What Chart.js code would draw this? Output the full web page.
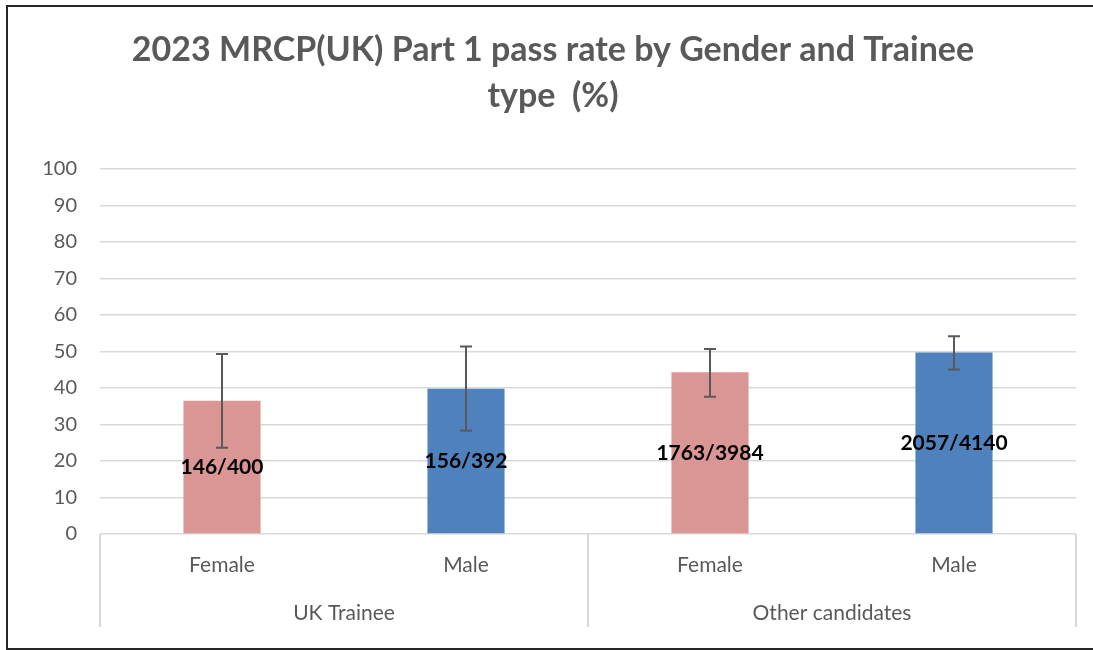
<!DOCTYPE html>
<html>
<head>
<meta charset="utf-8">
<script src="https://cdn.jsdelivr.net/npm/chart.js@4"></script>
<style>
  body { margin: 0; background: #fff; }
  #wrap { position: relative; width: 1093px; height: 650px; overflow: hidden; }
  #frame { position: absolute; left: 6px; top: 5px; width: 1200px; height: 641px; border: 2px solid #262626; pointer-events: none; }
</style>
</head>
<body>
<div id="wrap">
  <canvas id="passChart" width="1093" height="650"></canvas>
  <div id="frame"></div>
</div>
<script>
// dati
var genders = ['Female', 'Male', 'Female', 'Male'];
var groups = ['UK Trainee', 'Other candidates'];
var passRate = [36.5, 39.8, 44.3, 49.7];
var errLow = [23.6, 28.3, 37.6, 45.1];
var errHigh = [49.3, 51.4, 50.7, 54.2];
var barLabels = ['146/400', '156/392', '1763/3984', '2057/4140'];
var barColors = ['#D99694', '#4F81BD', '#D99694', '#4F81BD'];
var yTicks = [0, 10, 20, 30, 40, 50, 60, 70, 80, 90, 100];

var grey = '#595959';
var gridGrey = '#D9D9D9';

// barre di errore, etichette e separatori dei gruppi
var extras = {
    id: 'extras',
    afterDatasetsDraw: function(chart) {
        var ctx = chart.ctx;
        var y = chart.scales.y;
        var meta = chart.getDatasetMeta(0);
        ctx.save();
        ctx.strokeStyle = grey;
        ctx.lineWidth = 2;
        meta.data.forEach(function(bar, i) {
            var top = y.getPixelForValue(errHigh[i]);
            var bot = y.getPixelForValue(errLow[i]);
            ctx.beginPath();
            ctx.moveTo(bar.x, top); ctx.lineTo(bar.x, bot);
            ctx.moveTo(bar.x - 6, top); ctx.lineTo(bar.x + 6, top);
            ctx.moveTo(bar.x - 6, bot); ctx.lineTo(bar.x + 6, bot);
            ctx.stroke();
        });
        ctx.font = 'bold 21px Lato';
        ctx.fillStyle = '#000';
        ctx.textAlign = 'center';
        ctx.textBaseline = 'middle';
        meta.data.forEach(function(bar, i) {
            ctx.fillText(barLabels[i], bar.x, (bar.y + bar.base) / 2);
        });
        ctx.restore();
    },
    afterDraw: function(chart) {
        var ctx = chart.ctx;
        var x = chart.scales.x;
        var area = chart.chartArea;
        var mid = (x.getPixelForTick(1) + x.getPixelForTick(2)) / 2;
        ctx.save();
        ctx.strokeStyle = gridGrey;
        ctx.lineWidth = 2;
        [x.left, mid, x.right].forEach(function(px) {
            ctx.beginPath();
            ctx.moveTo(px, area.bottom);
            ctx.lineTo(px, area.bottom + 93);
            ctx.stroke();
        });
        ctx.restore();
    }
};

var ctx = document.getElementById('passChart').getContext('2d');
new Chart(ctx, {
    type: 'bar',
    data: {
        labels: genders,
        datasets: [{
            data: passRate,
            backgroundColor: barColors,
            barPercentage: 0.316,
            categoryPercentage: 1
        }]
    },
    options: {
        responsive: false,
        animation: false,
        layout: { padding: { left: 30, right: 17, top: 0, bottom: 0 } },
        plugins: {
            legend: { display: false },
            tooltip: { enabled: false },
            title: {
                display: true,
                text: ['2023 MRCP(UK) Part 1 pass rate by Gender and Trainee', 'type  (%)'],
                color: grey,
                font: { family: 'Lato', size: 34, weight: 'bold', lineHeight: 1.353 },
                padding: { top: 27, bottom: 50 }
            }
        },
        scales: {
            y: {
                min: 0,
                max: 100,
                afterFit: function(scale) { scale.width = 70; },
                afterBuildTicks: function(scale) {
                    scale.ticks = yTicks.map(function(v) { return { value: v }; });
                },
                grid: { color: gridGrey, lineWidth: 1.5, drawTicks: false },
                border: { display: false },
                ticks: { color: grey, padding: 23, font: { family: 'Lato', size: 20 } }
            },
            x: {
                offset: true,
                afterFit: function(scale) { scale.height = 50; },
                grid: { display: false },
                border: { display: false },
                ticks: { color: grey, padding: 11, maxRotation: 0, autoSkip: false, font: { family: 'Lato', size: 21 } }
            },
            x2: {
                type: 'category',
                position: 'bottom',
                labels: groups,
                offset: true,
                afterFit: function(scale) { scale.height = 66; },
                grid: { display: false },
                border: { display: false },
                ticks: { color: grey, padding: 9, maxRotation: 0, autoSkip: false, font: { family: 'Lato', size: 21 } }
            }
        }
    },
    plugins: [extras]
});
</script>
</body>
</html>
